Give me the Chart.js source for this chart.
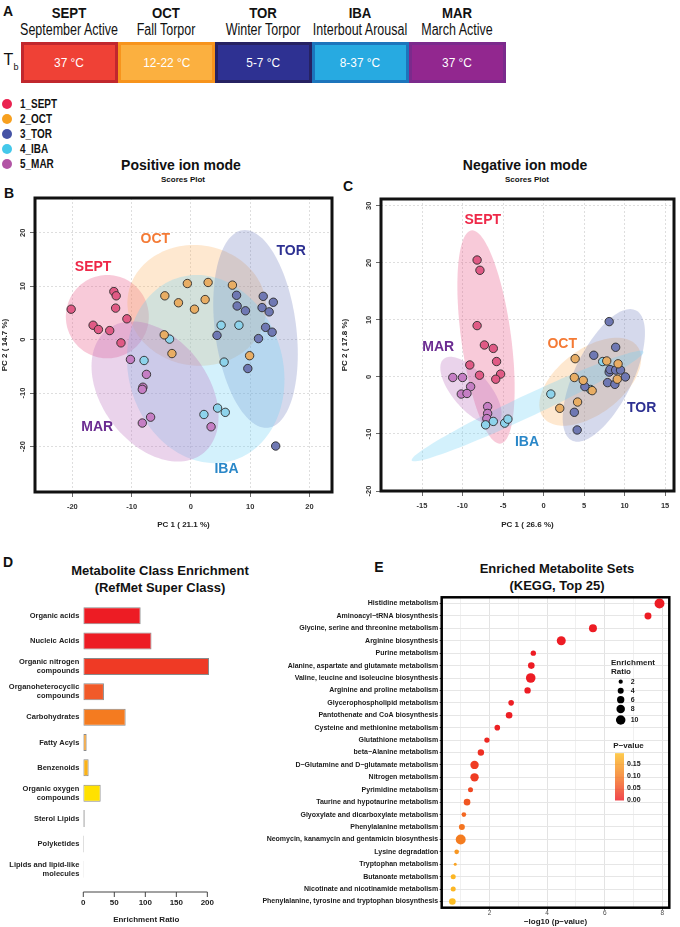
<!DOCTYPE html>
<html>
<head>
<meta charset="utf-8">
<script src="https://cdn.jsdelivr.net/npm/chart.js@4.4.1/dist/chart.umd.min.js"></script>
<style>
body { margin: 0; background: #fff; font-family: "Liberation Sans", Arial, sans-serif; color: #111; }
#page { position: relative; width: 680px; height: 927px; overflow: hidden; }
.t { position: absolute; white-space: nowrap; transform: translate(-50%, -50%); line-height: 1; }
.nar { transform: translate(-50%, -50%) scaleX(0.8); }
.letter { font-weight: bold; font-size: 14px; }
.box { position: absolute; top: 42px; height: 41px; box-sizing: border-box; border: 3px solid; color: #fff;
  display: flex; align-items: center; justify-content: center; font-size: 13.5px; }
.box span { display: inline-block; transform: scaleX(0.88); }
.dot { position: absolute; width: 10px; height: 10px; border-radius: 50%; }
.leg { position: absolute; left: 20px; font-weight: bold; font-size: 12px; line-height: 1;
  transform: translateY(-50%) scaleX(0.83); transform-origin: left center; white-space: nowrap; }
canvas { position: absolute; }
</style>
</head>
<body>
<div id="page">
  <!-- panel A -->
  <div class="t letter" style="left:8px;top:11px">A</div>
  <div id="strip"></div>
  <div class="t" style="left:11px;top:62px;font-size:16px">T<sub style="font-size:9px">b</sub></div>

  <!-- titles -->
  <div class="t" style="left:181px;top:165px;font-weight:bold;font-size:14px">Positive ion mode</div>
  <div class="t" style="left:183px;top:180px;font-weight:bold;font-size:8px">Scores Plot</div>
  <div class="t letter" style="left:9px;top:193px">B</div>
  <div class="t" style="left:525px;top:165px;font-weight:bold;font-size:14px">Negative ion mode</div>
  <div class="t" style="left:527px;top:180px;font-weight:bold;font-size:8px">Scores Plot</div>
  <div class="t letter" style="left:348px;top:186px">C</div>

  <div class="t letter" style="left:8px;top:562px">D</div>
  <div class="t" style="left:160px;top:570px;font-weight:bold;font-size:13px">Metabolite Class Enrichment</div>
  <div class="t" style="left:160px;top:587px;font-weight:bold;font-size:13px">(RefMet Super Class)</div>
  <div class="t letter" style="left:379px;top:567px">E</div>
  <div class="t" style="left:557px;top:568px;font-weight:bold;font-size:13px">Enriched Metabolite Sets</div>
  <div class="t" style="left:557px;top:585px;font-weight:bold;font-size:13px">(KEGG, Top 25)</div>

  <canvas id="pos" width="340" height="345" style="left:0;top:185px"></canvas>
  <canvas id="neg" width="340" height="345" style="left:340px;top:185px"></canvas>
  <canvas id="cls" width="260" height="335" style="left:0;top:590px"></canvas>
  <canvas id="kegg" width="430" height="337" style="left:250px;top:590px"></canvas>
</div>

<script>
// groups and their temperatures (panel A)
const groups = ["SEPT", "OCT", "TOR", "IBA", "MAR"];
const groupNames = ["September Active", "Fall Torpor", "Winter Torpor", "Interbout Arousal", "March Active"];
const groupTemps = ["37 °C", "12-22 °C", "5-7 °C", "8-37 °C", "37 °C"];
const legendLabels = ["1_SEPT", "2_OCT", "3_TOR", "4_IBA", "5_MAR"];

// PCA scores, positive ion mode [PC1, PC2]
const posSept = [[-20.2, 5.7], [-13.0, 9.0], [-12.6, 8.2], [-12.7, 5.9], [-16.5, 2.7], [-15.6, 1.9], [-13.7, 1.7], [-10.8, 3.9], [-11.8, -0.6]];
const posOct = [[-4.4, 8.2], [-2.1, 6.9], [-0.6, 10.5], [0.6, 5.7], [2.4, 7.5], [2.9, 10.7], [7.0, 10.2], [-4.5, 0.9], [-3.2, -2.6], [9.9, -3.0]];
const posTor = [[7.7, 8.3], [7.8, 6.3], [9.2, 5.4], [12.2, 8.1], [12.0, 6.0], [13.2, 5.2], [13.9, 7.0], [4.4, 0.8], [11.4, 0.2], [12.6, 2.3], [13.7, 1.4], [9.6, -5.4], [14.3, -19.9]];
const posIba = [[-3.6, 0.1], [-7.9, -3.9], [5.1, 2.7], [8.1, 2.7], [5.6, -4.2], [2.2, -14.0], [4.5, -12.8], [5.8, -13.6]];
const posMar = [[-10.2, -3.7], [-7.5, -6.5], [-8.1, -8.9], [-8.2, -9.3], [-6.8, -14.5], [-8.2, -15.6], [3.4, -16.3]];

// PCA scores, negative ion mode
const negSept = [[-8.2, 20.5], [-7.85, 18.7], [-8.2, 9.0], [-7.3, 5.6], [-6.2, 5.0], [-5.8, 2.7], [-5.3, 0.5], [-5.9, -0.4], [-7.9, 0.3], [-9.1, 2.1]];
const negOct = [[3.9, 3.2], [3.8, -0.1], [4.9, -0.6], [4.2, -4.4], [2.0, -5.5], [6.0, -2.4], [7.8, 2.8], [9.2, 2.3], [9.1, -0.4]];
const negTor = [[8.1, 9.7], [8.9, 5.2], [6.2, 3.8], [5.1, -1.7], [3.8, -6.2], [4.15, -9.3], [7.9, -1.0], [8.1, 0.85], [8.2, 1.3], [8.9, 1.2], [9.5, 1.2], [8.8, -1.3], [10.1, 0.0]];
const negIba = [[-7.15, -8.4], [-6.2, -7.8], [-4.8, -8.1], [-4.4, -7.4], [0.9, -3.0], [7.3, 2.7], [5.8, -2.2]];
const negMar = [[-11.2, -0.1], [-10.0, -0.1], [-9.0, -1.7], [-10.15, -3.0], [-9.45, -2.9], [-6.9, -5.2], [-6.9, -6.4], [-7.0, -7.3]];

// 95% ellipses per group: [centre x, centre y, top-point x, top-point y, horizontal half-chord]
const posEllipses = [[-14.1, 4.3, -14.1, 12.1, 7.0], [1.0, 6.4, 0.5, 17.7, 11.7], [10.9, 2.0, 9.1, 20.5, 6.9], [2.5, -5.5, 1.0, 12.1, 13.2], [-6.05, -9.7, -9.9, 3.4, 10.0]];
const negEllipses = [[-7.1, 7.0, -8.8, 25.7, 3.1], [5.76, -0.84, 9.04, 6.87, 5.36], [7.44, 0.27, 10.69, 11.9, 3.9], [-1.97, -5.1, 12.0, 4.6, 3.1], [-8.96, -2.42, -11.5, 3.54, 2.8]];
// group name positions inside plots
const posTags = [[-16.5, 13.6], [-6.0, 18.8], [16.9, 16.6], [6.0, -24.2], [-15.8, -16.4]];
const negTags = [[-7.5, 27.5], [2.3, 5.7], [12.1, -5.4], [-2.05, -11.5], [-13.0, 5.2]];

const posXTicks = [-20, -10, 0, 10, 20], posYTicks = [-20, -10, 0, 10, 20];
const negXTicks = [-15, -10, -5, 0, 5, 10, 15], negYTicks = [-20, -10, 0, 10, 20, 30];

// panel D
const classNames = [["Organic acids"], ["Nucleic Acids"], ["Organic nitrogen", "compounds"], ["Organoheterocyclic", "compounds"], ["Carbohydrates"], ["Fatty Acyls"], ["Benzenoids"], ["Organic oxygen", "compounds"], ["Sterol Lipids"], ["Polyketides"], ["Lipids and lipid-like", "molecules"]];
const classRatio = [92.5, 110, 202.7, 33.3, 68.3, 5.4, 8.6, 28, 2.2, 1.0, 0.6];
const classTicks = [0, 50, 100, 150, 200];

// panel E
const pathways = ["Histidine metabolism", "Aminoacyl−tRNA biosynthesis", "Glycine, serine and threonine metabolism", "Arginine biosynthesis", "Purine metabolism", "Alanine, aspartate and glutamate metabolism", "Valine, leucine and isoleucine biosynthesis", "Arginine and proline metabolism", "Glycerophospholipid metabolism", "Pantothenate and CoA biosynthesis", "Cysteine and methionine metabolism", "Glutathione metabolism", "beta−Alanine metabolism", "D−Glutamine and D−glutamate metabolism", "Nitrogen metabolism", "Pyrimidine metabolism", "Taurine and hypotaurine metabolism", "Glyoxylate and dicarboxylate metabolism", "Phenylalanine metabolism", "Neomycin, kanamycin and gentamicin biosynthesis", "Lysine degradation", "Tryptophan metabolism", "Butanoate metabolism", "Nicotinate and nicotinamide metabolism", "Phenylalanine, tyrosine and tryptophan biosynthesis"];
const logP = [7.90, 7.50, 5.59, 4.49, 3.52, 3.45, 3.43, 3.32, 2.75, 2.68, 2.27, 1.91, 1.70, 1.48, 1.48, 1.34, 1.22, 1.11, 1.04, 1.00, 0.86, 0.81, 0.74, 0.74, 0.71];
const enrichRatio = [11, 5.4, 7, 9, 3.2, 4.9, 10.2, 4.5, 3.5, 4.9, 3.5, 3.2, 4.5, 7.8, 7.8, 2.8, 4.9, 2.4, 4, 11, 2.4, 1, 2.8, 2.8, 4.9];
const keggTicks = [1, 2, 3, 4, 5, 6, 7, 8];
const sizeLegend = [2, 4, 6, 8, 10];
const pLegend = [0.15, 0.10, 0.05, 0.00];

// colours
const boxFill = ["#ef4136", "#fbb040", "#2e3192", "#27aae1", "#92278f"];
const boxEdge = ["#c1272d", "#f7941d", "#262262", "#1c75bc", "#7b2a8c"];
const legendDot = ["#ea2350", "#f7a01f", "#4553a5", "#44c8ea", "#b255a5"];
const pointColors = ["#e05a85", "#e8ad64", "#6f78b3", "#8dd3eb", "#c57ec4"];
const ellipseFill = ["rgba(232,80,128,0.30)", "rgba(252,180,100,0.30)", "rgba(105,120,185,0.28)", "rgba(110,210,245,0.30)", "rgba(185,110,190,0.30)"];
const tagColors = ["#ee2848", "#f47a35", "#2e3192", "#2a87c8", "#6b2c91"];
const classColors = ["#ed1c24", "#ed1c24", "#ef3a25", "#f15a29", "#f47b20", "#f89a1c", "#fbb217", "#ffe100", "#c8c8c8", "#c8c8c8", "#c8c8c8"];

const FONT = '"Liberation Sans", Arial, sans-serif';
Chart.defaults.font.family = FONT;

// ---- panel A strip + legend
const strip = document.getElementById("strip");
groups.forEach((g, i) => {
	const cx = 20.7 + 97 * i + 48.5;
	strip.insertAdjacentHTML("beforeend",
		`<div class="t nar" style="left:${cx}px;top:12px;font-weight:bold;font-size:15px;transform:translate(-50%,-50%) scaleX(0.88)">${g}</div>` +
		`<div class="t nar" style="left:${cx}px;top:30px;font-size:16px;transform:translate(-50%,-50%) scaleX(0.78)">${groupNames[i]}</div>` +
		`<div class="box" style="left:${20.7 + 97 * i}px;width:97.5px;background:${boxFill[i]};border-color:${boxEdge[i]}"><span>${groupTemps[i]}</span></div>` +
		`<div class="dot" style="left:2px;top:${99 + 15 * i}px;background:${legendDot[i]}"></div>` +
		`<div class="leg" style="top:${104 + 15 * i}px">${legendLabels[i]}</div>`);
});

// ---- panels B and C
function ellipsePath(chart, e) {
	const { x, y } = chart.scales;
	const [cx, cy, tx, ty, hw] = e;
	const ctx = chart.ctx;
	ctx.beginPath();
	for (let i = 0; i <= 120; i++) {
		const t = i / 120 * Math.PI * 2;
		const px = x.getPixelForValue(cx + Math.cos(t) * (tx - cx) + Math.sin(t) * hw);
		const py = y.getPixelForValue(cy + Math.cos(t) * (ty - cy));
		if (i === 0) ctx.moveTo(px, py); else ctx.lineTo(px, py);
	}
	ctx.closePath();
}

function pcaChart(id, sets, ellipses, tags, xr, yr, xTicks, yTicks, xTitle, yTitle, yW, pad) {
	const decor = {
		id: "decor",
		beforeDatasetsDraw(chart) {
			const { ctx, chartArea: a } = chart;
			ctx.save();
			ctx.beginPath();
			ctx.rect(a.left, a.top, a.width, a.height);
			ctx.clip();
			ellipses.forEach((e, g) => {
				ellipsePath(chart, e);
				ctx.fillStyle = ellipseFill[g];
				ctx.fill();
			});
			ctx.restore();
		},
		afterDraw(chart) {
			const { ctx, chartArea: a, scales } = chart;
			ctx.save();
			ctx.font = "bold 14px " + FONT;
			ctx.textAlign = "center";
			ctx.textBaseline = "middle";
			tags.forEach((p, g) => {
				ctx.fillStyle = tagColors[g];
				ctx.fillText(groups[g], scales.x.getPixelForValue(p[0]), scales.y.getPixelForValue(p[1]));
			});
			// rotated y tick labels
			ctx.font = "bold 7.5px " + FONT;
			ctx.fillStyle = "#333";
			scales.y.ticks.forEach(t => {
				ctx.save();
				ctx.translate(a.left - 12, scales.y.getPixelForValue(t.value));
				ctx.rotate(-Math.PI / 2);
				ctx.fillText(String(t.value), 0, 0);
				ctx.restore();
			});
			ctx.lineWidth = 3;
			ctx.strokeStyle = "#111";
			ctx.strokeRect(a.left, a.top, a.width, a.height);
			ctx.restore();
		}
	};
	new Chart(document.getElementById(id), {
		type: "scatter",
		data: {
			datasets: sets.map((pts, g) => ({
				label: groups[g],
				data: pts.map(p => ({ x: p[0], y: p[1] })),
				backgroundColor: pointColors[g],
				borderColor: "#2a2a2a",
				borderWidth: 0.9,
				pointRadius: 4.2
			}))
		},
		options: {
			responsive: false,
			animation: false,
			layout: { padding: pad },
			plugins: { legend: { display: false }, tooltip: { enabled: false } },
			scales: {
				x: {
					type: "linear", min: xr[0], max: xr[1],
					afterBuildTicks: s => { s.ticks = xTicks.map(v => ({ value: v })); },
					afterFit: s => { s.height = 345 - pad.bottomArea; },
					ticks: { font: { size: 7.5, weight: "bold" }, color: "#333", padding: 5 },
					grid: { color: "#d6d6d6", lineWidth: 0.8, tickLength: 5, tickColor: "#444", tickBorderDash: [] },
					border: { display: false, dash: [2, 2] },
					title: { display: true, text: xTitle, font: { size: 8, weight: "bold" }, color: "#222", padding: 0 }
				},
				y: {
					type: "linear", min: yr[0], max: yr[1],
					afterBuildTicks: s => { s.ticks = yTicks.map(v => ({ value: v })); },
					afterFit: s => { s.width = yW; },
					ticks: { display: false },
					grid: { color: "#d6d6d6", lineWidth: 0.8, tickLength: 5, tickColor: "#444", tickBorderDash: [] },
					border: { display: false, dash: [2, 2] },
					title: { display: true, text: yTitle, font: { size: 8, weight: "bold" }, color: "#222", padding: 0 }
				}
			}
		},
		plugins: [decor]
	});
}

pcaChart("pos", [posSept, posOct, posTor, posIba, posMar], posEllipses, posTags,
	[-26.3, 23.8], [-28.5, 26.5], posXTicks, posYTicks, "PC 1 ( 21.1 %)", "PC 2 ( 14.7 %)", 35,
	{ left: 0, top: 13, right: 8, bottom: 0, bottomArea: 307 });
pcaChart("neg", [negSept, negOct, negTor, negIba, negMar], negEllipses, negTags,
	[-20.06, 16.1], [-20, 31.2], negXTicks, negYTicks, "PC 1 ( 26.6 %)", "PC 2 ( 17.8 %)", 41,
	{ left: 0, top: 14, right: 6, bottom: 0, bottomArea: 306 });

// ---- panel D
const axisLine = {
	id: "axisLine",
	afterDraw(chart) {
		const { ctx, chartArea: a, scales: { x } } = chart;
		const y0 = a.bottom + 10;
		ctx.save();
		ctx.strokeStyle = "#444";
		ctx.lineWidth = 1;
		ctx.beginPath();
		ctx.moveTo(x.getPixelForValue(classTicks[0]), y0);
		ctx.lineTo(x.getPixelForValue(classTicks[classTicks.length - 1]), y0);
		classTicks.forEach(v => {
			const px = x.getPixelForValue(v);
			ctx.moveTo(px, y0);
			ctx.lineTo(px, y0 + 5);
		});
		ctx.stroke();
		ctx.restore();
	}
};
new Chart(document.getElementById("cls"), {
	type: "bar",
	data: {
		labels: classNames,
		datasets: [{
			data: classRatio,
			backgroundColor: classColors,
			borderColor: "#8a8a8a",
			borderWidth: 1,
			borderSkipped: false,
			barPercentage: 0.67,
			categoryPercentage: 1
		}]
	},
	options: {
		indexAxis: "y",
		responsive: false,
		animation: false,
		layout: { padding: { left: 0, top: 2.9, right: 50.8, bottom: 0 } },
		plugins: { legend: { display: false }, tooltip: { enabled: false } },
		scales: {
			x: {
				min: 0, max: 203,
				afterBuildTicks: s => { s.ticks = classTicks.map(v => ({ value: v })); },
				afterFit: s => { s.height = 43; },
				grid: { display: false, drawTicks: false },
				border: { display: false },
				ticks: { padding: 16, font: { size: 8, weight: "bold" }, color: "#222" },
				title: { display: true, text: "Enrichment Ratio", font: { size: 8, weight: "bold" }, color: "#222", padding: 0 }
			},
			y: {
				afterFit: s => { s.width = 83.3; },
				grid: { display: false, drawTicks: false },
				border: { display: false },
				ticks: { padding: 4, font: { size: 7.5, weight: "bold" }, color: "#222" }
			}
		}
	},
	plugins: [axisLine]
});

// ---- panel E
const pStops = [[237, 28, 36], [244, 121, 32], [253, 190, 36]];
function pColor(p) {
	const t = Math.max(0, Math.min(1, p / 0.193)) * 2;
	const i = Math.min(1, Math.floor(t)), f = t - i;
	const c = pStops[i].map((v, k) => Math.round(v + (pStops[i + 1][k] - v) * f));
	return `rgb(${c[0]},${c[1]},${c[2]})`;
}
const dotR = r => 1.5 * Math.sqrt(r);

const keggDecor = {
	id: "keggDecor",
	afterDraw(chart) {
		const { ctx, chartArea: a } = chart;
		const ox = 250, oy = 590;
		ctx.save();
		ctx.lineWidth = 2.5;
		ctx.strokeStyle = "#000";
		ctx.strokeRect(a.left, a.top, a.width, a.height);
		// size legend
		ctx.fillStyle = "#1a1a1a";
		ctx.font = "bold 8px " + FONT;
		ctx.textBaseline = "middle";
		ctx.fillText("Enrichment", 611 - ox, 662.3 - oy);
		ctx.fillText("Ratio", 611 - ox, 671.7 - oy);
		const ly = [681.7, 690.7, 699.7, 709, 720];
		ctx.font = "bold 7px " + FONT;
		sizeLegend.forEach((v, i) => {
			ctx.fillStyle = "#000";
			ctx.beginPath();
			ctx.arc(620.7 - ox, ly[i] - oy, dotR(v), 0, Math.PI * 2);
			ctx.fill();
			ctx.fillStyle = "#1a1a1a";
			ctx.fillText(String(v), 630.7 - ox, ly[i] - oy);
		});
		// p-value colour bar
		ctx.font = "bold 8px " + FONT;
		ctx.fillText("P−value", 613.3 - ox, 746 - oy);
		const top = 753.3 - oy, bot = 800 - oy;
		for (let yy = top; yy < bot; yy += 0.5) {
			const p = (bot - yy) / (bot - top) * 0.193;
			ctx.fillStyle = pColor(p);
			ctx.fillRect(615 - ox, yy, 9, 0.6);
		}
		ctx.font = "bold 7px " + FONT;
		ctx.fillStyle = "#1a1a1a";
		pLegend.forEach(v => {
			ctx.fillText(v.toFixed(2), 627 - ox, bot - v / 0.193 * (bot - top));
		});
		ctx.restore();
	}
};

new Chart(document.getElementById("kegg"), {
	type: "scatter",
	data: {
		datasets: [{
			data: pathways.map((p, i) => ({ x: logP[i], y: p })),
			pointRadius: ctx => dotR(enrichRatio[ctx.dataIndex]),
			backgroundColor: ctx => pColor(Math.pow(10, -logP[ctx.dataIndex])),
			borderWidth: 0
		}]
	},
	options: {
		responsive: false,
		animation: false,
		layout: { padding: { left: 0, top: 7.3, right: 10.7, bottom: 0 } },
		plugins: { legend: { display: false }, tooltip: { enabled: false } },
		scales: {
			x: {
				type: "linear", min: 0.34, max: 8.24,
				afterBuildTicks: s => { s.ticks = keggTicks.map(v => ({ value: v })); },
				afterFit: s => { s.height = 19.3; },
				ticks: { callback: v => (v % 2 === 0 ? v : ""), padding: 0, font: { size: 6.5 }, color: "#4d4d4d" },
				grid: { color: c => (c.tick && c.tick.value % 2 === 0 ? "#e3e3e3" : "#f0f0f0"), tickLength: 2,
					tickColor: c => (c.tick && c.tick.value % 2 === 0 ? "#333" : "rgba(0,0,0,0)") },
				border: { display: false },
				title: { display: true, text: "−log10 (p−value)", font: { size: 8, weight: "bold" }, color: "#1a1a1a", padding: 0 }
			},
			y: {
				type: "category", labels: pathways, offset: true,
				afterFit: s => { s.width = 191.7; },
				ticks: { padding: 1.5, font: { size: 7, weight: "bold" }, color: "#1a1a1a", autoSkip: false },
				grid: { color: "#e6e6e6", tickLength: 2, tickColor: "#333" },
				border: { display: false }
			}
		}
	},
	plugins: [keggDecor]
});
</script>
</body>
</html>
